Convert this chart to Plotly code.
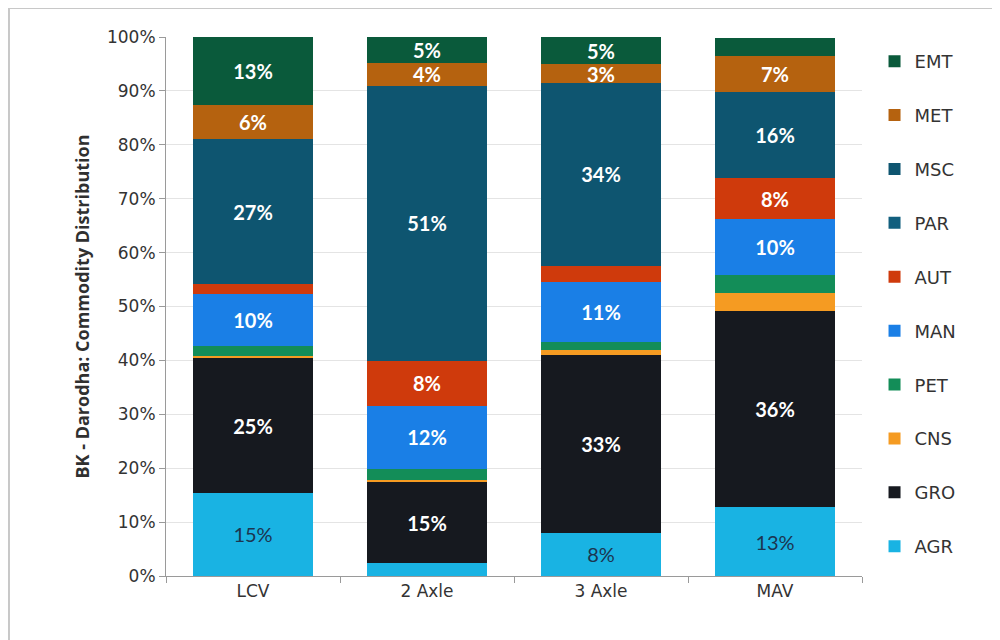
import plotly.graph_objs as go

categories = ["LCV", "2 Axle", "3 Axle", "MAV"]

# bottom -> top
commodities = ["AGR", "GRO", "CNS", "PET", "MAN", "AUT", "PAR", "MSC", "MET", "EMT"]
agr = [15.4, 2.4, 8.0, 12.8]
gro = [25.0, 15.0, 33.0, 36.4]
cns = [0.5, 0.5, 1.0, 3.3]
pet = [1.8, 2.0, 1.5, 3.3]
man = [9.6, 11.7, 11.0, 10.4]
aut = [1.9, 8.3, 3.0, 7.6]
par = [0.0, 0.0, 0.0, 0.0]
msc = [26.8, 51.0, 34.0, 16.0]
met = [6.4, 4.3, 3.4, 6.7]
emt = [12.6, 4.8, 5.1, 3.3]

colors = {
    "AGR": "#19b3e3", "GRO": "#16191f", "CNS": "#f59b22", "PET": "#138d58",
    "MAN": "#1a7fe6", "AUT": "#cf3a0c", "PAR": "#125f7e", "MSC": "#0e5570",
    "MET": "#b5620f", "EMT": "#0a5a3b",
}
values = [agr, gro, cns, pet, man, aut, par, msc, met, emt]

fig = go.Figure()
for i, (name, vals) in enumerate(zip(commodities, values)):
    txt = [f"{round(v)}%" if v >= 3.4 else "" for v in vals]
    agr_lbl = name == "AGR"
    fig.add_trace(go.Bar(
        x=categories, y=vals, name=name, legendgroup=name,
        legendrank=100 - i,
        marker=dict(color=colors[name], line=dict(width=0)),
        text=txt, textposition="inside", insidetextanchor="middle",
        textangle=0, constraintext="none",
        textfont=dict(family="Lato", size=20,
                      weight="normal" if agr_lbl else "bold",
                      color="#1c3550" if agr_lbl else "white"),
        hoverinfo="skip",
    ))

# page body adds an 8px offset, so margins are 8px smaller than the target
fig.update_layout(
    barmode="stack",
    bargap=0.31,
    width=1000, height=640,
    margin=dict(l=158, r=146, t=29, b=72),
    paper_bgcolor="white", plot_bgcolor="white",
    font=dict(family="DejaVu Sans", color="#333333"),
    legend=dict(
        x=1.018, xanchor="left", y=0.989, yanchor="top",
        traceorder="grouped", tracegroupgap=27.5,
        font=dict(family="DejaVu Sans", size=18, color="#333333"),
        itemwidth=30,
    ),
    xaxis=dict(
        showline=True, linecolor="#9a9a9a", linewidth=1,
        ticks="outside", tickson="boundaries", ticklen=6, tickcolor="#9a9a9a",
        tickfont=dict(family="DejaVu Sans", size=17, color="#333333"),
        showgrid=False,
    ),
    yaxis=dict(
        range=[0, 100], dtick=10, ticksuffix="%",
        showline=True, linecolor="#9a9a9a", linewidth=1,
        ticks="outside", ticklen=6, tickcolor="#9a9a9a",
        gridcolor="#e4e4e4",
        tickfont=dict(family="DejaVu Sans", size=17, color="#333333"),
        title=dict(text="BK - Darodha: Commodity Distribution",
                   font=dict(family="Open Sans", size=18, weight="bold", color="#303030"),
                   standoff=12),
    ),
    shapes=[
        dict(type="line", xref="paper", yref="paper",
             x0=-0.2256, x1=1.25, y0=1.054, y1=1.054,
             line=dict(color="#c8c8c8", width=2)),
        dict(type="line", xref="paper", yref="paper",
             x0=-0.2256, x1=-0.2256, y0=1.054, y1=-0.15,
             line=dict(color="#c8c8c8", width=2)),
    ],
)

fig.write_html("out.html")
